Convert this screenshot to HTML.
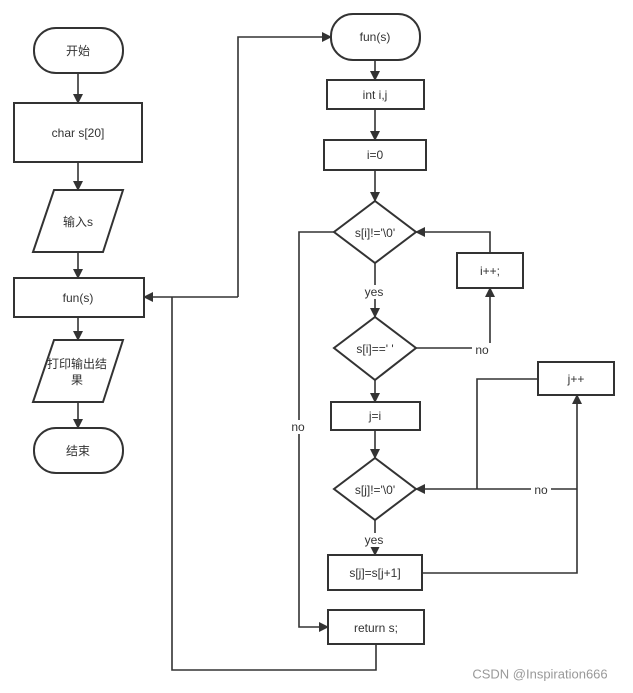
<!DOCTYPE html><html><head><style>body{margin:0;background:#fff}svg{display:block}text{font-family:"Liberation Sans","Noto Sans CJK SC",sans-serif;font-size:12px;fill:#333;text-anchor:middle;dominant-baseline:central}</style></head><body>
<svg width="633" height="693" viewBox="0 0 633 693" xmlns="http://www.w3.org/2000/svg">
<defs><marker id="a" markerWidth="10" markerHeight="10" refX="9" refY="5" orient="auto" markerUnits="userSpaceOnUse"><path d="M0,0 L10,5 L0,10 z" fill="#333"/></marker></defs>
<g fill="none" stroke="#333" stroke-width="2">
<rect x="34" y="28" width="89" height="45" rx="22"/>
<rect x="14" y="103" width="128" height="59"/>
<polygon points="54,190 123,190 103,252 33,252"/>
<rect x="14" y="278" width="130" height="39"/>
<polygon points="54,340 123,340 103,402 33,402"/>
<rect x="34" y="428" width="89" height="45" rx="22"/>
<rect x="331" y="14" width="89" height="46" rx="22"/>
<rect x="327" y="80" width="97" height="29"/>
<rect x="324" y="140" width="102" height="30"/>
<polygon points="375,201 416,232 375,263 334,232"/>
<rect x="457" y="253" width="66" height="35"/>
<polygon points="375,317 416,348 375,380 334,348"/>
<rect x="331" y="402" width="89" height="28"/>
<polygon points="375,458 416,489 375,520 334,489"/>
<rect x="538" y="362" width="76" height="33"/>
<rect x="328" y="555" width="94" height="35"/>
<rect x="328" y="610" width="96" height="34"/>
</g>
<g fill="none" stroke="#333" stroke-width="1.6">
<path d="M78,73V103" marker-end="url(#a)"/>
<path d="M78,162V190" marker-end="url(#a)"/>
<path d="M78,252V278" marker-end="url(#a)"/>
<path d="M78,317V340" marker-end="url(#a)"/>
<path d="M78,402V428" marker-end="url(#a)"/>
<path d="M238,297H144" marker-end="url(#a)"/>
<path d="M238,297V37H331" marker-end="url(#a)"/>
<path d="M376,644V670H172V297"/>
<path d="M375,60V80" marker-end="url(#a)"/>
<path d="M375,109V140" marker-end="url(#a)"/>
<path d="M375,170V201" marker-end="url(#a)"/>
<path d="M375,263V317" marker-end="url(#a)"/>
<path d="M490,253V232H416" marker-end="url(#a)"/>
<path d="M416,348H490V288" marker-end="url(#a)"/>
<path d="M375,380V402" marker-end="url(#a)"/>
<path d="M375,430V458" marker-end="url(#a)"/>
<path d="M577,489H416" marker-end="url(#a)"/>
<path d="M538,379H477V489"/>
<path d="M422,573H577V395" marker-end="url(#a)"/>
<path d="M375,520V555" marker-end="url(#a)"/>
<path d="M334,232H299V627H328" marker-end="url(#a)"/>
</g>
<g fill="#fff"><rect x="362" y="285" width="24" height="14"/><rect x="362" y="533" width="24" height="14"/><rect x="472" y="343" width="20" height="14"/><rect x="531" y="483" width="20" height="14"/><rect x="288" y="420" width="20" height="14"/></g>
<text x="78" y="51">开始</text>
<text x="78" y="133">char s[20]</text>
<text x="78" y="222">输入s</text>
<text x="78" y="298">fun(s)</text>
<text x="77" y="364">打印输出结</text>
<text x="77" y="380">果</text>
<text x="78" y="451">结束</text>
<text x="375" y="37">fun(s)</text>
<text x="375" y="95">int i,j</text>
<text x="375" y="155">i=0</text>
<text x="375" y="233">s[i]!='\0'</text>
<text x="490" y="271">i++;</text>
<text x="374" y="292">yes</text>
<text x="375" y="349">s[i]==' '</text>
<text x="482" y="350">no</text>
<text x="375" y="416">j=i</text>
<text x="375" y="490">s[j]!='\0'</text>
<text x="576" y="379">j++</text>
<text x="541" y="490">no</text>
<text x="374" y="540">yes</text>
<text x="375" y="573">s[j]=s[j+1]</text>
<text x="376" y="628">return s;</text>
<text x="298" y="427">no</text>
<text x="540" y="674" style="font-size:13px;fill:#999">CSDN @Inspiration666</text>
</svg></body></html>
